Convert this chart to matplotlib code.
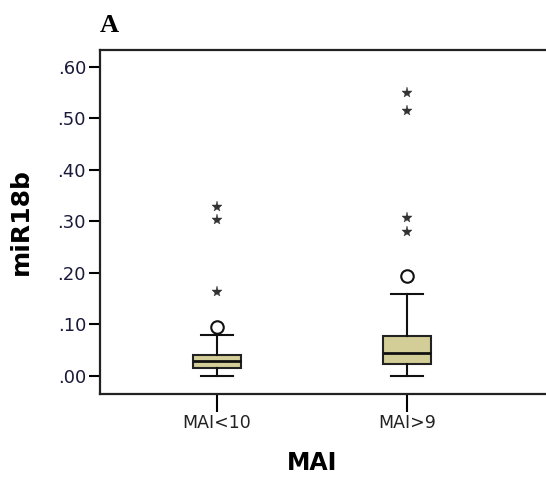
import matplotlib
matplotlib.use("Agg")
import matplotlib.pyplot as plt

groups = ["MAI<10", "MAI>9"]
q1 = [0.016, 0.023]
med = [0.029, 0.045]
q3 = [0.040, 0.078]
whislo = [0.0, 0.0]
whishi = [0.080, 0.159]
circles = [[0.095], [0.195]]
stars = [[0.164, 0.303, 0.329], [0.280, 0.306, 0.515, 0.549]]
yticks = [0.0, 0.1, 0.2, 0.3, 0.4, 0.5, 0.6]
ytick_labels = [".00", ".10", ".20", ".30", ".40", ".50", ".60"]

fig = plt.figure(figsize=(5.46, 4.82), dpi=100)
ax = fig.add_axes([100 / 546, 1 - 394 / 482, 460 / 546, 344 / 482])

stats = []
for i, g in enumerate(groups):
    stats.append({"label": g, "q1": q1[i], "med": med[i], "q3": q3[i],
                  "whislo": whislo[i], "whishi": whishi[i], "fliers": []})

ax.bxp(stats, positions=[1, 2], widths=0.25, showfliers=False, patch_artist=True,
       boxprops=dict(facecolor="#d3cd98", edgecolor="#222222", linewidth=1.5),
       medianprops=dict(color="#111111", linewidth=2),
       whiskerprops=dict(color="#111111", linewidth=1.5),
       capprops=dict(color="#111111", linewidth=1.5), capwidths=0.17)

for i in range(len(groups)):
    ax.plot([i + 1] * len(circles[i]), circles[i], "o", ms=9, mfc="white",
            mec="#111111", mew=1.5, ls="none")
    ax.plot([i + 1] * len(stars[i]), stars[i], "*", ms=8, mfc="#333333",
            mec="#333333", mew=0.3, ls="none")

ax.set_xlim(0.384, 2.805)
ax.set_ylim(-0.035, 0.633)
ax.set_yticks(yticks)
ax.set_yticklabels(ytick_labels, fontsize=13, color="#1a1a3a")
ax.set_xticks([1, 2])
ax.set_xticklabels(groups, fontsize=12.5, color="#222222")
ax.tick_params(axis="y", length=8, width=1.5, direction="out", pad=2)
ax.tick_params(axis="x", length=13, width=1.5, direction="out", pad=1.5)
for s in ax.spines.values():
    s.set_linewidth(1.6)
    s.set_color("#222222")

ax.set_ylabel("miR18b", fontsize=18, fontweight="bold")
ax.yaxis.set_label_coords(-0.146, 0.5)
ax.set_xlabel("MAI", fontsize=17, fontweight="bold")
ax.xaxis.set_label_coords(0.461, -0.165)

fig.text(100 / 546, 1 - 25 / 482, "A", fontsize=19, fontweight="bold",
         family="Liberation Serif", va="center", ha="left")

fig.savefig("out.png", dpi=100)
